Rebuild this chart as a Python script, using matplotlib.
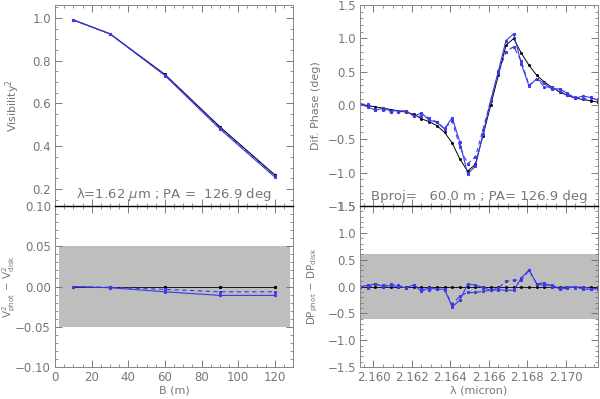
import matplotlib
matplotlib.use("Agg")
import matplotlib.pyplot as plt
from matplotlib.ticker import MultipleLocator, FormatStrFormatter

# baselines (m) and squared visibilities
base = [10, 30, 60, 90, 120]
v2_black = [0.99, 0.925, 0.735, 0.49, 0.265]
v2_solid = [0.99, 0.925, 0.730, 0.480, 0.255]
v2_dash = [0.99, 0.925, 0.733, 0.485, 0.260]
dv2_black = [0.0, 0.0, 0.0, 0.0, 0.0]
dv2_solid = [0.0, -0.0015, -0.0065, -0.011, -0.011]
dv2_dash = [0.0, -0.001, -0.0035, -0.0065, -0.0065]

# wavelengths (micron) and differential phases (deg)
lam = [2.1593, 2.1597, 2.1601, 2.1605, 2.1609, 2.1613, 2.1617, 2.1621,
       2.1625, 2.1629, 2.1633, 2.1637, 2.1641, 2.1645, 2.1649, 2.1653,
       2.1657, 2.1661, 2.1665, 2.1669, 2.1673, 2.1677, 2.1681, 2.1685,
       2.1689, 2.1693, 2.1697, 2.1701, 2.1705, 2.1709, 2.1713, 2.1717]
dp_black = [0.02, 0.0, -0.02, -0.04, -0.06, -0.08, -0.10, -0.13,
            -0.20, -0.24, -0.30, -0.40, -0.56, -0.80, -0.98, -0.88,
            -0.45, 0.0, 0.45, 0.90, 1.00, 0.78, 0.60, 0.45,
            0.35, 0.27, 0.20, 0.15, 0.11, 0.09, 0.07, 0.05]
dp_solid = [0.02, -0.02, -0.07, -0.04, -0.08, -0.08, -0.08, -0.16,
            -0.11, -0.22, -0.25, -0.35, -0.18, -0.55, -1.02, -0.91,
            -0.43, 0.07, 0.51, 0.97, 1.07, 0.62, 0.29, 0.40,
            0.33, 0.24, 0.25, 0.18, 0.11, 0.14, 0.12, 0.08]
dp_dash = [0.02, 0.02, -0.06, -0.06, -0.10, -0.10, -0.08, -0.15,
           -0.16, -0.18, -0.25, -0.34, -0.23, -0.62, -0.87, -0.77,
           -0.36, 0.07, 0.48, 0.80, 0.88, 0.66, 0.30, 0.40,
           0.28, 0.27, 0.22, 0.15, 0.13, 0.09, 0.11, 0.09]
ddp_black = [0.0] * 32
ddp_solid = [0.0, 0.02, 0.05, 0.0, 0.02, 0.0, -0.02, 0.03,
             -0.09, -0.02, -0.05, -0.05, -0.38, -0.25, 0.04, 0.03,
             -0.02, -0.07, -0.06, -0.07, -0.07, 0.16, 0.31, 0.05,
             0.02, 0.03, -0.05, -0.03, 0.0, -0.05, -0.05, -0.03]
ddp_dash = [0.0, -0.02, 0.04, 0.02, 0.04, 0.02, -0.02, 0.02,
            -0.04, -0.06, -0.05, -0.06, -0.33, -0.18, -0.11, -0.11,
            -0.09, -0.07, -0.03, 0.10, 0.12, 0.12, 0.30, 0.05,
            0.07, 0.0, -0.02, 0.0, -0.02, 0.0, -0.04, -0.04]

# error bands
v2_band = 0.05
v2_band_x = (2, 128)
dp_band = 0.6

txt = "#777777"
blue = "#3a3ae6"
plt.rcParams["font.family"] = "DejaVu Sans"
plt.rcParams["font.size"] = 8

fig = plt.figure(figsize=(6, 3.99), dpi=100)
ax1 = fig.add_axes([0.0917, 0.4837, 0.397, 0.5038])
ax2 = fig.add_axes([0.0917, 0.080, 0.397, 0.4037])
ax3 = fig.add_axes([0.600, 0.4837, 0.397, 0.5038])
ax4 = fig.add_axes([0.600, 0.080, 0.397, 0.4037])

mk = dict(marker="s", markersize=1.2)
dash = (0, (4, 3))

# visibilities
ax1.plot(base, v2_black, color="black", lw=0.8, **mk)
ax1.plot(base, v2_solid, color=blue, lw=0.8, **mk)
ax1.plot(base, v2_dash, color=blue, lw=0.8, ls=dash, **mk)
ax1.set_xlim(0, 130)
ax1.set_ylim(0.12, 1.06)
ax1.set_ylabel("Visibility$^2$", color=txt)
ax1.yaxis.set_label_coords(-0.14, 0.5)
ax1.text(0.5, 0.015, "λ=1.62 $\\mu$m ; PA =  126.9 deg", transform=ax1.transAxes,
         ha="center", va="bottom", color=txt, fontsize=9.5)
ax1.yaxis.set_major_locator(MultipleLocator(0.2))
ax1.yaxis.set_minor_locator(MultipleLocator(0.05))

ax2.fill_between(v2_band_x, -v2_band, v2_band, color="#bebebe", lw=0)
ax2.plot(base, dv2_black, color="black", lw=0.6, **mk)
ax2.plot(base, dv2_solid, color=blue, lw=0.8, **mk)
ax2.plot(base, dv2_dash, color=blue, lw=0.8, ls=dash, **mk)
ax2.set_xlim(0, 130)
ax2.set_ylim(-0.10, 0.10)
ax2.set_xlabel("B (m)", color=txt, labelpad=1)
ax2.set_ylabel(r"V$^2_{\rm phot}$ $-$ V$^2_{\rm disk}$", color=txt, fontsize=7.5)
ax2.yaxis.set_label_coords(-0.155, 0.5)
ax2.yaxis.set_major_locator(MultipleLocator(0.05))
ax2.yaxis.set_minor_locator(MultipleLocator(0.01))

for a in (ax1, ax2):
    a.xaxis.set_major_locator(MultipleLocator(20))
    a.xaxis.set_minor_locator(MultipleLocator(5))

# differential phases
ax3.plot(lam, dp_black, color="black", lw=0.7, marker="s", markersize=1.0)
ax3.plot(lam, dp_solid, color=blue, lw=0.8, **mk)
ax3.plot(lam, dp_dash, color=blue, lw=0.8, ls=dash, **mk)
ax3.set_ylim(-1.5, 1.5)
ax3.set_ylabel("Dif. Phase (deg)", color=txt)
ax3.yaxis.set_label_coords(-0.165, 0.5)
ax3.text(0.5, 0.015, "Bproj=   60.0 m ; PA= 126.9 deg", transform=ax3.transAxes,
         ha="center", va="bottom", color=txt, fontsize=9.5)

ax4.axhspan(-dp_band, dp_band, color="#bebebe", lw=0)
ax4.plot(lam, ddp_black, color="black", lw=0.6, marker="s", markersize=1.0)
ax4.plot(lam, ddp_solid, color=blue, lw=0.8, **mk)
ax4.plot(lam, ddp_dash, color=blue, lw=0.8, ls=dash, **mk)
ax4.set_ylim(-1.5, 1.5)
ax4.set_xlabel("λ (micron)", color=txt, labelpad=1)
ax4.set_ylabel(r"DP$_{\rm phot}$ $-$ DP$_{\rm disk}$", color=txt, fontsize=7.5)
ax4.yaxis.set_label_coords(-0.17, 0.5)

for a in (ax3, ax4):
    a.set_xlim(lam[0], lam[-1])
    a.xaxis.set_major_locator(MultipleLocator(0.002))
    a.xaxis.set_minor_locator(MultipleLocator(0.0005))
    a.yaxis.set_major_locator(MultipleLocator(0.5))
    a.yaxis.set_minor_locator(MultipleLocator(0.1))
    a.xaxis.set_major_formatter(FormatStrFormatter("%.3f"))

for a in (ax1, ax3):
    a.tick_params(labelbottom=False)

for a in (ax1, ax2, ax3, ax4):
    a.tick_params(which="both", direction="in", top=True, right=True,
                  colors="#666666", labelcolor=txt, labelsize=8.5, pad=3)
    a.tick_params(which="major", length=5, width=0.6)
    a.tick_params(which="minor", length=2.5, width=0.5)
    for s in a.spines.values():
        s.set_color("#888888")
        s.set_linewidth(0.7)

for a in (ax2, ax4):
    a.spines["top"].set_color("black")
    a.spines["top"].set_linewidth(1.0)

fig.savefig("out.png", dpi=100)
